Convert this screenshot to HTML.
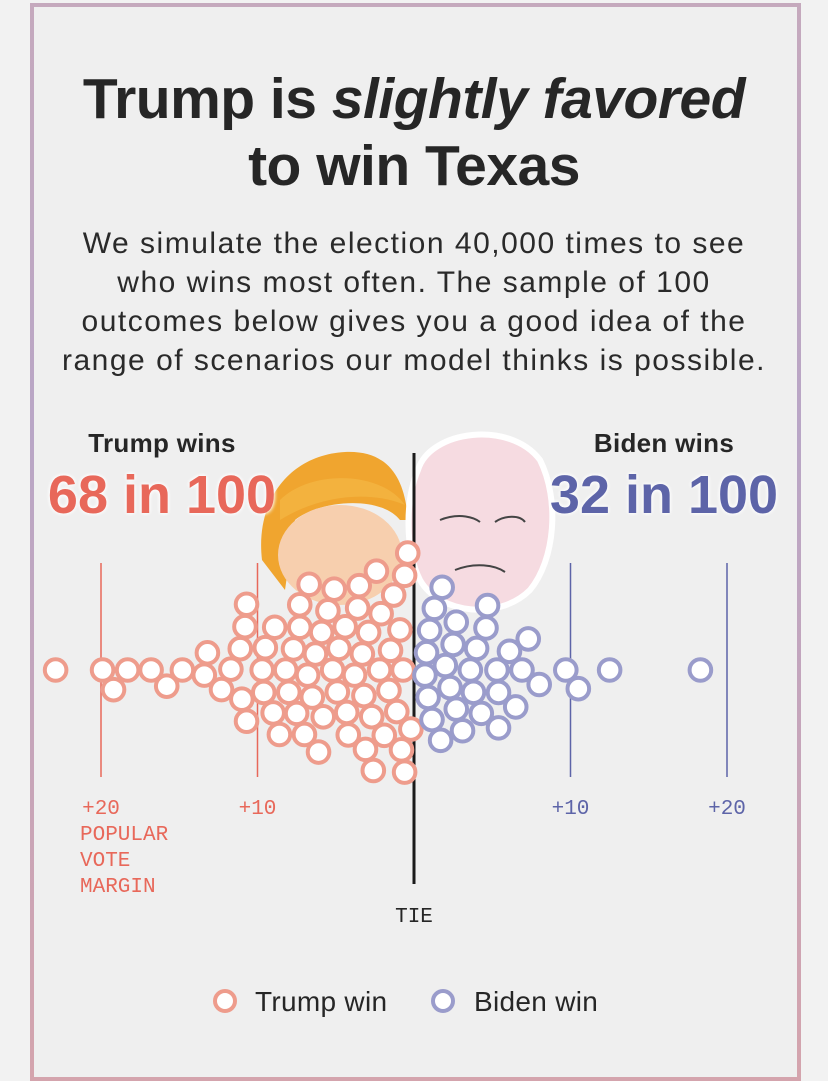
<!DOCTYPE html>
<html><head><meta charset="utf-8">
<style>
html,body{margin:0;padding:0;width:828px;height:1065px;overflow:hidden;background:#f2f2f2;font-family:"Liberation Sans",sans-serif;}
#frame{position:absolute;left:30px;top:3px;width:763px;height:1070px;background:#efefef;border:4px solid;border-image:linear-gradient(180deg,#c5a9bd,#b9a6c6 40%,#d4a4ad 100%) 1;box-sizing:content-box;}
.t{position:absolute;white-space:nowrap;}
</style></head><body>
<div id="frame"></div>
<div class="t" style="left:0;width:828px;text-align:center;top:66px;font-size:57px;font-weight:bold;color:#262626;line-height:67px;letter-spacing:-0.5px">Trump is <i>slightly favored</i><br>to win Texas</div>
<div class="t" style="left:0;width:828px;text-align:center;top:224px;font-size:30px;color:#2a2a2a;line-height:39px;letter-spacing:1.5px">We simulate the election 40,000 times to see<br>who wins most often. The sample of 100<br>outcomes below gives you a good idea of the<br>range of scenarios our model thinks is possible.</div>
<svg id="chart" width="828" height="1065" style="position:absolute;left:0;top:0">
<g>
<path d="M262,560 C255,500 290,455 345,452 C390,450 405,480 408,520 L400,520 C380,495 320,500 295,520 L285,590 Z" fill="#f0a52f"/>
<ellipse cx="340" cy="555" rx="62" ry="50" fill="#f7cfae"/>
<path d="M280,500 C310,470 380,470 405,505 C370,490 320,495 280,520 Z" fill="#f3b23e"/>
</g>
<g>
<path d="M418,470 C430,430 510,420 540,460 C560,500 555,560 530,590 C500,620 440,615 420,580 C405,550 405,500 418,470 Z" fill="#f6dbe1" stroke="#fff" stroke-width="6"/>
<path d="M440,520 C460,512 475,518 480,522 M495,522 C505,515 520,515 525,522 M455,570 C475,562 495,565 505,572" stroke="#444" stroke-width="2" fill="none"/>
</g>
<g id="axes"></g>
<g id="dots"></g>
<g id="labels"></g>
</svg>
<div class="t" style="left:62px;width:200px;text-align:center;top:428px;font-size:26px;font-weight:bold;color:#262626;letter-spacing:0.3px">Trump wins</div>
<div class="t" style="left:32px;width:260px;text-align:center;top:464px;font-size:54px;font-weight:bold;color:#e8685a;text-shadow:0 0 4px #fff,0 0 4px #fff">68 in 100</div>
<div class="t" style="left:564px;width:200px;text-align:center;top:428px;font-size:26px;font-weight:bold;color:#262626;letter-spacing:0.3px">Biden wins</div>
<div class="t" style="left:534px;width:260px;text-align:center;top:464px;font-size:54px;font-weight:bold;color:#5d64a8;text-shadow:0 0 4px #fff,0 0 4px #fff">32 in 100</div>
<script>
const trumpMargins=[22.9,19.9,19.2,18.3,16.8,15.8,14.8,13.4,13.2,12.3,11.7,11.1,11.0,10.8,10.7,10.7,9.7,9.6,9.5,8.9,8.6,8.2,7.7,7.5,7.3,7.3,6.8,6.7,6.1,5.9,5.8,5.2,5.1,4.8,4.4,4.3,4.2,3.6,3.3,3.2,3.1,2.9,2.4,2.2,2.1,1.9,1.6,1.3,1.1,0.8,0.7,0.6,0.6,0.2,2.6,3.8,4.9,6.3,7.0,8.0,9.0,5.5,1.5,0.4,2.7,3.5,6.5,0.9];
const bidenMargins=[1.8,0.8,2.7,4.3,1.3,2.0,3.6,5.4,6.9,8.0,9.7,10.5,12.5,18.3,0.7,2.7,4.6,6.1,7.3,2.3,3.8,5.3,6.5,0.9,3.1,4.7,1.7,1.0,2.5,4.0,5.4,1.15];
const tickValues=[-20,-10,10,20];
const tickLabels=["+20","+10","+10","+20"];
const CX=414,PX=15.65,CY=670,R=10.8,D=22.5;
const xs=v=>CX+v*PX;
const NS="http://www.w3.org/2000/svg";
const axes=document.getElementById('axes'),dots=document.getElementById('dots'),labels=document.getElementById('labels');
function mk(tag,attrs,parent){const e=document.createElementNS(NS,tag);for(const k in attrs)e.setAttribute(k,attrs[k]);parent.appendChild(e);return e;}
tickValues.forEach((v,i)=>{
  const col=v<0?'#e8685a':'#5d64a8';
  const l=mk('line',{x1:xs(v),x2:xs(v),y1:563,y2:777,stroke:col,'stroke-width':1.5},axes);
  
  
  const t=mk('text',{x:xs(v),y:814,'text-anchor':'middle','font-family':'Liberation Mono, monospace','font-size':21,fill:col},labels);
  t.textContent=tickLabels[i];
  
  
});
const tie=mk('line',{x1:CX,x2:CX,y1:453,y2:884,stroke:'#1a1a1a','stroke-width':3},axes);


["POPULAR","VOTE","MARGIN"].forEach((w,i)=>{const t=mk('text',{x:80,y:840+i*26,'font-family':'Liberation Mono, monospace','font-size':21,fill:'#e8685a'},labels);t.textContent=w;

});
const tt=mk('text',{x:CX,y:922,'text-anchor':'middle','font-family':'Liberation Mono, monospace','font-size':21,fill:'#262626'},labels);tt.textContent="TIE";


const all=trumpMargins.map(m=>({x:xs(-m),c:'#ee9c8c',n:'trump-dot'})).concat(bidenMargins.map(m=>({x:xs(m),c:'#9a9ccb',n:'biden-dot'})));
all.sort((a,b)=>a.x-b.x);
const placed=[];
all.forEach(p=>{
  let cands=[0];
  placed.forEach(q=>{const dx=p.x-q.x;if(Math.abs(dx)<D){const dy=Math.sqrt(D*D-dx*dx);cands.push(q.y+dy,q.y-dy);}});
  cands.sort((a,b)=>Math.abs(a)-Math.abs(b));
  for(const y of cands){if(placed.every(q=>(q.x-p.x)**2+(q.y-y)**2>=D*D-0.01)){p.y=y;break;}}
  placed.push(p);
});
placed.forEach(p=>{const c=mk('circle',{cx:p.x,cy:CY+p.y,r:R,fill:'#fff',stroke:p.c,'stroke-width':4},dots);

});
[[225,'#ee9c8c',255,'Trump win','legend-trump'],[443,'#9a9ccb',474,'Biden win','legend-biden']].forEach(a=>{
  const c=mk('circle',{cx:a[0],cy:1001,r:10,fill:'#fff',stroke:a[1],'stroke-width':4},labels);
  
  
  const t=mk('text',{x:a[2],y:1011,'font-size':28,'letter-spacing':0.3,fill:'#262626','font-family':'Liberation Sans, sans-serif'},labels);t.textContent=a[3];
  
  
});
</script>
</body></html>
